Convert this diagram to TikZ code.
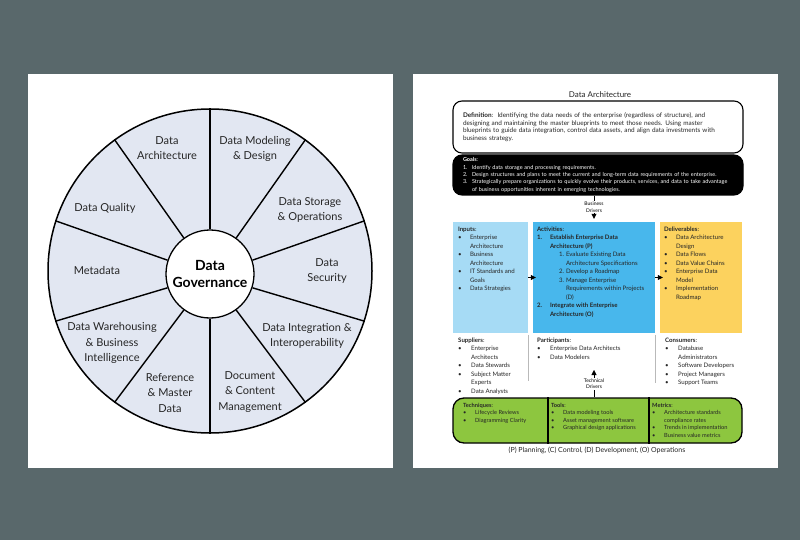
\documentclass[tikz,border=0pt]{standalone}
\usepackage{fontspec}
\setmainfont{Lato}
\usetikzlibrary{arrows.meta}

\definecolor{slate}{RGB}{89,104,107}
\definecolor{wheelcol}{RGB}{226,231,242}
\definecolor{inpcol}{RGB}{166,219,245}
\definecolor{actcol}{RGB}{72,183,236}
\definecolor{delcol}{RGB}{252,210,94}
\definecolor{techcol}{RGB}{141,198,63}

\begin{document}
\begin{tikzpicture}[x=1pt,y=-1pt,
  sector/.style={align=center,font=\fontsize{11}{15.5}\selectfont,text=black!85},
  hub/.style={circle,draw,line width=1.3pt,fill=white,minimum size=88pt,inner sep=0pt,
    align=center,font=\fontsize{14}{17.5}\selectfont\bfseries},
  box/.style={rounded corners=9pt,draw,line width=1.1pt,align=left,text width=270pt,
    inner xsep=10pt,inner ysep=0pt},
  area/.style={inner sep=0pt,minimum height=111pt},
  lst/.style={anchor=north west,inner sep=0pt,align=left,text=black!85,
    font=\fontsize{6.1}{8.5}\selectfont},
  tlst/.style={lst,font=\fontsize{5.7}{7.6}\selectfont},
  drv/.style={fill=white,inner sep=0.8pt,align=center,font=\fontsize{5}{6.8}\selectfont},
  tip/.style={-{Triangle[length=5pt,width=5pt]}},
  sep/.style={draw=gray!55,line width=1pt}]

  % background and the two sheets
  \fill[slate] (0,0) rectangle (800,540);
  \fill[white] (28,74) rectangle (393,468);
  \fill[white] (413,74) rectangle (778,468);

  % left sheet: the wheel
  \node[circle,draw,line width=1.5pt,fill=wheelcol,minimum size=324pt,inner sep=0pt] (wheel) at (210,271) {};
  \node[hub] (gov) at (210,274) {Data\\Governance};
  \foreach \a in {90,54,18,-18,-54,-90,-126,-162,162,126}
    \draw[line width=1.4pt] (gov.\a) -- (wheel.\a);

  \node[sector] (arch) at (167,148) {Data\\Architecture};
  \node[sector] (model) at (255,149) {Data Modeling\\\& Design};
  \node[sector] (store) at (310,210) {Data Storage\\\& Operations};
  \node[sector] (secur) at (327,271) {Data\\Security};
  \node[sector] (integ) at (307,336) {Data Integration \&\\Interoperability};
  \node[sector] (docu) at (250,392) {Document\\\& Content\\Management};
  \node[sector] (refer) at (170,393) {Reference\\\& Master\\Data};
  \node[sector] (wareh) at (112,343) {Data Warehousing\\\& Business\\Intelligence};
  \node[sector] (meta) at (97,270) {Metadata};
  \node[sector] (qual) at (105,208) {Data Quality};

  % right sheet: context diagram
  \node[font=\fontsize{8}{9}\selectfont,text=black!85] (title) at (600,95) {Data Architecture};

  \node[box,minimum height=52pt,font=\fontsize{6.4}{7.6}\selectfont,text=black!85] (defn) at (598,127)
    {\textbf{Definition}:\, Identifying the data needs of the enterprise (regardless of structure), and\\
     designing and maintaining the master blueprints to meet those needs. Using master\\
     blueprints to guide data integration, control data assets, and align data investments with\\
     business strategy.};

  \node[box,fill=black,text=white,minimum height=40pt,font=\fontsize{5.5}{7.3}\selectfont] (goals) at (598,175)
    {\begin{tabular}{@{}p{9pt}@{}l@{}}
     \multicolumn{2}{@{}l@{}}{\textbf{Goals}:}\\
     1. & Identify data storage and processing requirements.\\
     2. & Design structures and plans to meet the current and long-term data requirements of the enterprise.\\
     3. & Strategically prepare organizations to quickly evolve their products, services, and data to take advantage\\
        & of business opportunities inherent in emerging technologies.
     \end{tabular}};

  \node[area,fill=inpcol,minimum width=75pt] (inputs) at (490.5,277.5) {};
  \node[area,fill=actcol,minimum width=122pt] (acts) at (594,277.5) {};
  \node[area,fill=delcol,minimum width=82pt] (delivs) at (701,277.5) {};

  \node[lst] (inputs text) at ([shift={(5pt,-3.5pt)}]inputs.north west)
    {\begin{tabular}{@{}p{12pt}@{}l@{}}
     \multicolumn{2}{@{}l@{}}{\textbf{Inputs}:}\\
     \textbullet & Enterprise\\ & Architecture\\
     \textbullet & Business\\ & Architecture\\
     \textbullet & IT Standards and\\ & Goals\\
     \textbullet & Data Strategies
     \end{tabular}};

  \node[lst] (acts text) at ([shift={(4pt,-3.5pt)}]acts.north west)
    {\begin{tabular}{@{}p{13pt}@{}p{16pt}@{}l@{}}
     \multicolumn{3}{@{}l@{}}{\textbf{Activities}:}\\
     \textbf{1.} & \multicolumn{2}{@{}l@{}}{\textbf{Establish Enterprise Data}}\\
      & \multicolumn{2}{@{}l@{}}{\textbf{Architecture (P)}}\\
      & \hspace{9pt}1. & Evaluate Existing Data\\
      & & Architecture Specifications\\
      & \hspace{9pt}2. & Develop a Roadmap\\
      & \hspace{9pt}3. & Manage Enterprise\\
      & & Requirements within Projects\\
      & & (D)\\
     \textbf{2.} & \multicolumn{2}{@{}l@{}}{\textbf{Integrate with Enterprise}}\\
      & \multicolumn{2}{@{}l@{}}{\textbf{Architecture (O)}}
     \end{tabular}};

  \node[lst] (delivs text) at ([shift={(4pt,-3.5pt)}]delivs.north west)
    {\begin{tabular}{@{}p{12pt}@{}l@{}}
     \multicolumn{2}{@{}l@{}}{\textbf{Deliverables}:}\\
     \textbullet & Data Architecture\\ & Design\\
     \textbullet & Data Flows\\
     \textbullet & Data Value Chains\\
     \textbullet & Enterprise Data\\ & Model\\
     \textbullet & Implementation\\ & Roadmap
     \end{tabular}};

  \draw[tip,shorten >=-3pt] (inputs.east) -- (acts.west);
  \draw[tip,shorten >=-3pt] (acts.east) -- (delivs.west);
  \draw[tip] (goals.south -| acts.north) -- node[drv] {Business\\Drivers} ([yshift=3pt]acts.north);

  \node[lst] (suppl) at (458,336)
    {\begin{tabular}{@{}p{13pt}@{}l@{}}
     \multicolumn{2}{@{}l@{}}{\textbf{Suppliers}:}\\
     \textbullet & Enterprise\\ & Architects\\
     \textbullet & Data Stewards\\
     \textbullet & Subject Matter\\ & Experts\\
     \textbullet & Data Analysts
     \end{tabular}};
  \node[lst] (partic) at (537,336)
    {\begin{tabular}{@{}p{13pt}@{}l@{}}
     \multicolumn{2}{@{}l@{}}{\textbf{Participants}:}\\
     \textbullet & Enterprise Data Architects\\
     \textbullet & Data Modelers
     \end{tabular}};
  \node[lst] (consum) at (665,336)
    {\begin{tabular}{@{}p{13pt}@{}l@{}}
     \multicolumn{2}{@{}l@{}}{\textbf{Consumers}:}\\
     \textbullet & Database\\ & Administrators\\
     \textbullet & Software Developers\\
     \textbullet & Project Managers\\
     \textbullet & Support Teams
     \end{tabular}};
  \draw[sep] ([yshift=-2pt]inputs.south east) -- ++(0,46);
  \draw[sep] ([yshift=-2pt]acts.south east) -- ++(0,48);

  % tools strip
  \node[rounded corners=11pt,draw,line width=1.3pt,fill=techcol,minimum width=289pt,minimum height=45pt,
    inner sep=0pt] (green) at (597.5,420.5) {};
  \draw[line width=1.1pt] ([xshift=-49.5pt]green.north) -- ([xshift=-49.5pt]green.south);
  \draw[line width=1.1pt] ([xshift=51.5pt]green.north) -- ([xshift=51.5pt]green.south);

  \node[tlst] (techn) at (463,401.5)
    {\begin{tabular}{@{}p{12pt}@{}l@{}}
     \multicolumn{2}{@{}l@{}}{\textbf{Techniques}:}\\
     \textbullet & Lifecycle Reviews\\
     \textbullet & Diagramming Clarity
     \end{tabular}};
  \node[tlst] (tools) at (551,401.5)
    {\begin{tabular}{@{}p{12pt}@{}l@{}}
     \multicolumn{2}{@{}l@{}}{\textbf{Tools}:}\\
     \textbullet & Data modeling tools\\
     \textbullet & Asset management software\\
     \textbullet & Graphical design applications
     \end{tabular}};
  \node[tlst] (metr) at (652,401.5)
    {\begin{tabular}{@{}p{12pt}@{}l@{}}
     \multicolumn{2}{@{}l@{}}{\textbf{Metrics}:}\\
     \textbullet & Architecture standards\\ & compliance rates\\
     \textbullet & Trends in implementation\\
     \textbullet & Business value metrics
     \end{tabular}};

  \coordinate (techtip) at (594,370);
  \draw[tip] (green.north -| techtip) -- node[drv] {Technical\\Drivers} (techtip);

  \node[font=\fontsize{7}{8}\selectfont,text=black!85] (legend) at (597,450)
    {(P) Planning, (C) Control, (D) Development, (O) Operations};
\end{tikzpicture}
\end{document}
